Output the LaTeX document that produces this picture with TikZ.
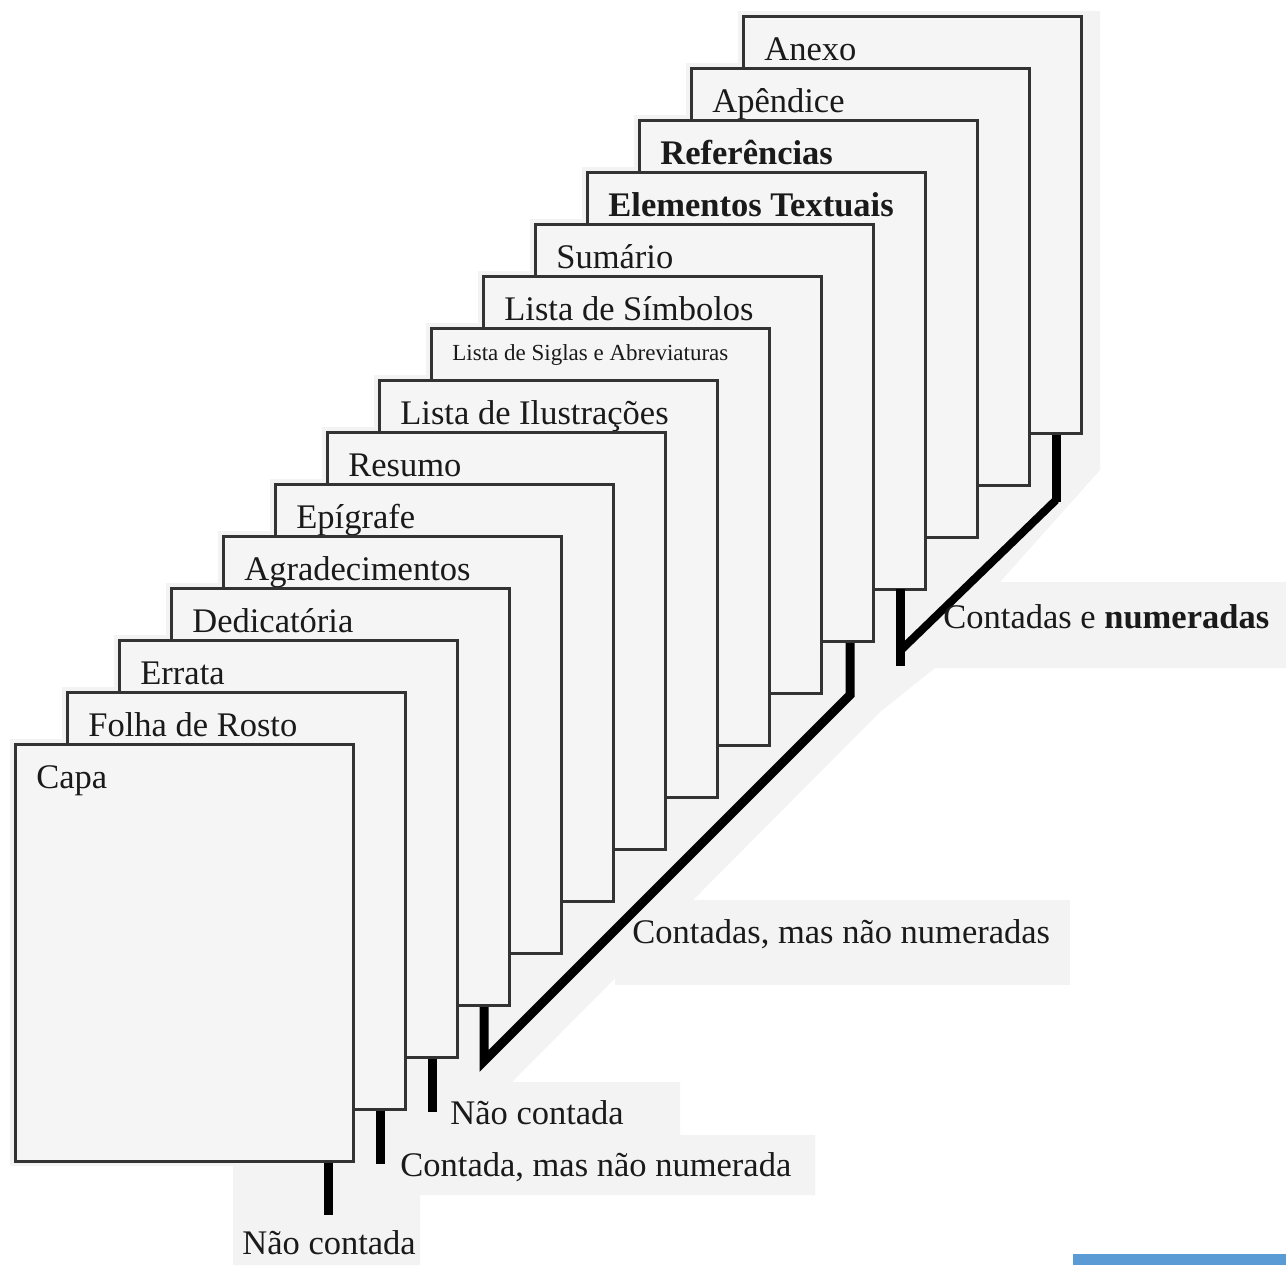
\documentclass[tikz,border=0pt]{standalone}
\usepackage{fontspec}
\setmainfont{Liberation Serif}
\usetikzlibrary{calc}
\definecolor{pagefill}{HTML}{F5F5F5}
\definecolor{bggrey}{HTML}{F3F3F3}
\definecolor{pageline}{HTML}{333333}
\definecolor{txt}{HTML}{1A1A1A}
\definecolor{bluebar}{HTML}{5B9BD5}
\newcommand\pglab{\fontsize{17.25}{20}\selectfont}
\newcommand\pgbold{\fontsize{17.25}{20}\selectfont\bfseries}
\newcommand\pgsmall{\fontsize{11.5}{14}\selectfont}
\begin{document}
\begin{tikzpicture}[x=0.5pt,y=-0.5pt,
  page/.style={draw=pageline, fill=pagefill, line width=1.5pt, minimum width=169pt, minimum height=208.5pt, inner sep=0pt, anchor=north west},
  lbl/.style={text=txt, inner sep=0pt, anchor=base west},
  bar/.style={line width=4.5pt, line cap=butt, line join=miter, black},
  diag/.style={line width=4pt, line cap=butt, line join=miter, black}]
\useasboundingbox (0,0) rectangle (1286,1265);
\fill[white] (0,0) rectangle (1286,1265);
% faint grey background of the original
\fill[bggrey] (10,739) -- (62,739) -- (62,687) -- (114,687) -- (114,635) -- (166,635) -- (166,583) -- (218,583) -- (218,531) -- (270,531) -- (270,479) -- (322,479) -- (322,427) -- (374,427) -- (374,375) -- (426,375) -- (426,323) -- (478,323) -- (478,271) -- (530,271) -- (530,219) -- (582,219) -- (582,167) -- (634,167) -- (634,115) -- (686,115) -- (686,63) -- (738,63) -- (738,11) -- (1100,11) -- (1100,470) -- (1000,582) -- (1286,582) -- (1286,668) -- (935,668) -- (880,712) -- (512,1082) -- (680,1082) -- (680,1135) -- (815,1135) -- (815,1195) -- (420,1195) -- (420,1265) -- (233,1265) -- (233,1166) -- (10,1166) -- cycle;
\fill[bggrey] (615,900) rectangle (1070,985);
% pages, back to front
\foreach \k/\fnt/\dy/\txt in {14/\pglab/45/Anexo, 13/\pglab/45/Apêndice, 12/\pgbold/45/Referências, 11/\pgbold/45/Elementos Textuais, 10/\pglab/45/Sumário, 9/\pglab/45/Lista de Símbolos, 8/\pgsmall/33/Lista de Siglas e Abreviaturas, 7/\pglab/45/Lista de Ilustrações, 6/\pglab/45/Resumo, 5/\pglab/45/Epígrafe, 4/\pglab/45/Agradecimentos, 3/\pglab/45/Dedicatória, 2/\pglab/45/Errata, 1/\pglab/45/Folha de Rosto, 0/\pglab/45/Capa}{
  \node[page] (pg\k) at ({14+52*\k},{743-52*\k}) {};
  \node[lbl] (t\k) at ($(pg\k.north west)+(22,\dy)$) {\fnt \txt};
}
% markers
\draw[bar] ($(pg0.south east)+(-27,0)$) -- ++(0,52);
\draw[bar] ($(pg1.south east)+(-27,0)$) -- ++(0,53);
\draw[bar] ($(pg2.south east)+(-27,0)$) -- ++(0,53);
\draw[bar] ($(pg3.south east)+(-27,0)$) -- ++(0,54) -- ($(pg10.south east)+(-25,52)$) -- ($(pg10.south east)+(-25,0)$);
\draw[bar] ($(pg11.south east)+(-27,-2)$) -- ++(0,77);
\draw[diag] ($(pg11.south east)+(-27,60)$) -- ($(pg14.south east)+(-27,65)$);
\draw[bar] ($(pg14.south east)+(-27,67)$) -- ($(pg14.south east)+(-27,0)$);
% labels
\node[lbl] (n1) at (242,1254) {\pglab Não contada};
\node[lbl] (n2) at (400,1176) {\pglab Contada, mas não numerada};
\node[lbl] (n3) at (450,1124) {\pglab Não contada};
\node[lbl] (n4) at (632,943) {\pglab Contadas, mas não numeradas};
\node[lbl] (n5) at (943,628) {\pglab Contadas e \textbf{numeradas}};
% blue strip
\fill[bluebar] (1073,1254) rectangle (1286,1265);
\end{tikzpicture}
\end{document}
